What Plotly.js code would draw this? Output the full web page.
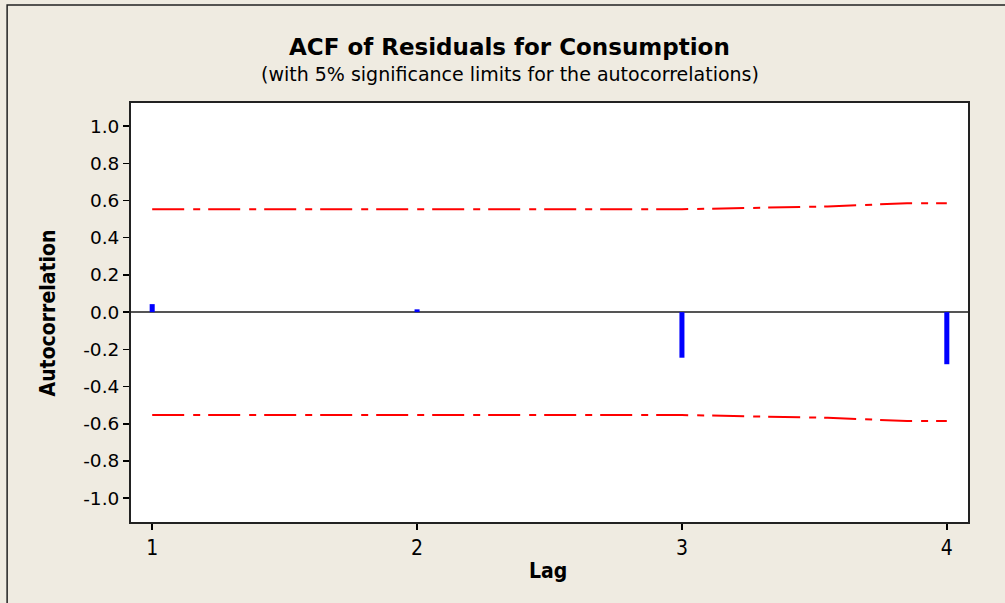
<!DOCTYPE html>
<html>
<head>
<meta charset="utf-8">
<script src="https://cdn.plot.ly/plotly-3.0.1.min.js"></script>
<style>html,body{margin:0;padding:0;background:#EFEBE1;}#chart{width:1005px;height:603px;}</style>
</head>
<body>
<div id="chart"></div>
<script>
// ACF values per lag
var lags = [1, 2, 3, 4];
var acf = [0.043, 0.015, -0.245, -0.280];
// 5% significance limits (read at positions along the lag axis)
var limitLags = [1, 2, 3, 3.55, 3.85, 4];
var upperLimit = [0.553, 0.553, 0.553, 0.568, 0.585, 0.585];
var lowerLimit = upperLimit.map(function (v) { return -v; });
var yTicks = [1.0, 0.8, 0.6, 0.4, 0.2, 0.0, -0.2, -0.4, -0.6, -0.8, -1.0];
var yTickText = ["1.0", "0.8", "0.6", "0.4", "0.2", "0.0", "-0.2", "-0.4", "-0.6", "-0.8", "-1.0"];
var xTickText = ["1", "2", "3", "4"];

var limStyle = {color: '#FF0000', width: 2, dash: '32px,9px,7px,8px'};
var traces = [
  {type: 'scatter', mode: 'lines', x: limitLags, y: upperLimit, line: limStyle, hoverinfo: 'skip'},
  {type: 'scatter', mode: 'lines', x: limitLags, y: lowerLimit, line: limStyle, hoverinfo: 'skip'},
  {type: 'bar', x: lags, y: acf, width: 0.019, marker: {color: '#0000FF', line: {width: 0}}}
];

var condensed = '"Liberation Sans Narrow", "DejaVu Sans Condensed", Arial, sans-serif';
var verdana = '"DejaVu Sans", Verdana, sans-serif';
var layout = {
  width: 1005, height: 603,
  paper_bgcolor: '#EFEBE1', plot_bgcolor: '#FFFFFF',
  showlegend: false,
  margin: {l: 131, r: 37, t: 103, b: 81, pad: 0},
  xaxis: {
    range: [0.92, 4.08], tickvals: lags, ticktext: xTickText,
    ticks: 'outside', ticklen: 6, tickcolor: '#000', tickwidth: 1.5,
    showgrid: false, zeroline: false,
    showline: true, linecolor: '#222', linewidth: 2, mirror: true,
    tickfont: {family: condensed, size: 21, color: '#000'}
  },
  yaxis: {
    range: [-1.128, 1.124], tickvals: yTicks, ticktext: yTickText,
    ticks: 'outside', ticklen: 6, tickcolor: '#000', tickwidth: 1.5,
    showgrid: false, zeroline: true, zerolinecolor: '#555', zerolinewidth: 1.5,
    showline: true, linecolor: '#222', linewidth: 2, mirror: true,
    tickfont: {family: verdana, size: 18.5, color: '#000'}
  },
  shapes: [
    {type: 'rect', xref: 'paper', yref: 'paper',
     x0: -0.148, x1: 1.2, y0: 1.234, y1: -0.25,
     line: {color: '#222', width: 1.5}, fillcolor: 'rgba(0,0,0,0)', layer: 'below'}
  ],
  annotations: [
    {xref: 'paper', yref: 'paper', x: 0.4528, y: 1.1337, xanchor: 'center', yanchor: 'middle',
     text: '<b>ACF of Residuals for Consumption</b>', showarrow: false,
     font: {family: verdana, size: 23, color: '#000'}},
    {xref: 'paper', yref: 'paper', x: 0.4528, y: 1.069, xanchor: 'center', yanchor: 'middle',
     text: '(with 5% significance limits for the autocorrelations)', showarrow: false,
     font: {family: verdana, size: 19, color: '#000'}},
    {xref: 'paper', yref: 'paper', x: -0.0992, y: 0.5, xanchor: 'center', yanchor: 'middle',
     text: '<b>Autocorrelation</b>', textangle: -90, showarrow: false,
     font: {family: condensed, size: 21, color: '#000'}},
    {xref: 'paper', yref: 'paper', x: 0.498, y: -0.117, xanchor: 'center', yanchor: 'middle',
     text: '<b>Lag</b>', showarrow: false,
     font: {family: condensed, size: 21, color: '#000'}}
  ]
};

Plotly.newPlot('chart', traces, layout, {displayModeBar: false, staticPlot: true});
</script>
</body>
</html>
